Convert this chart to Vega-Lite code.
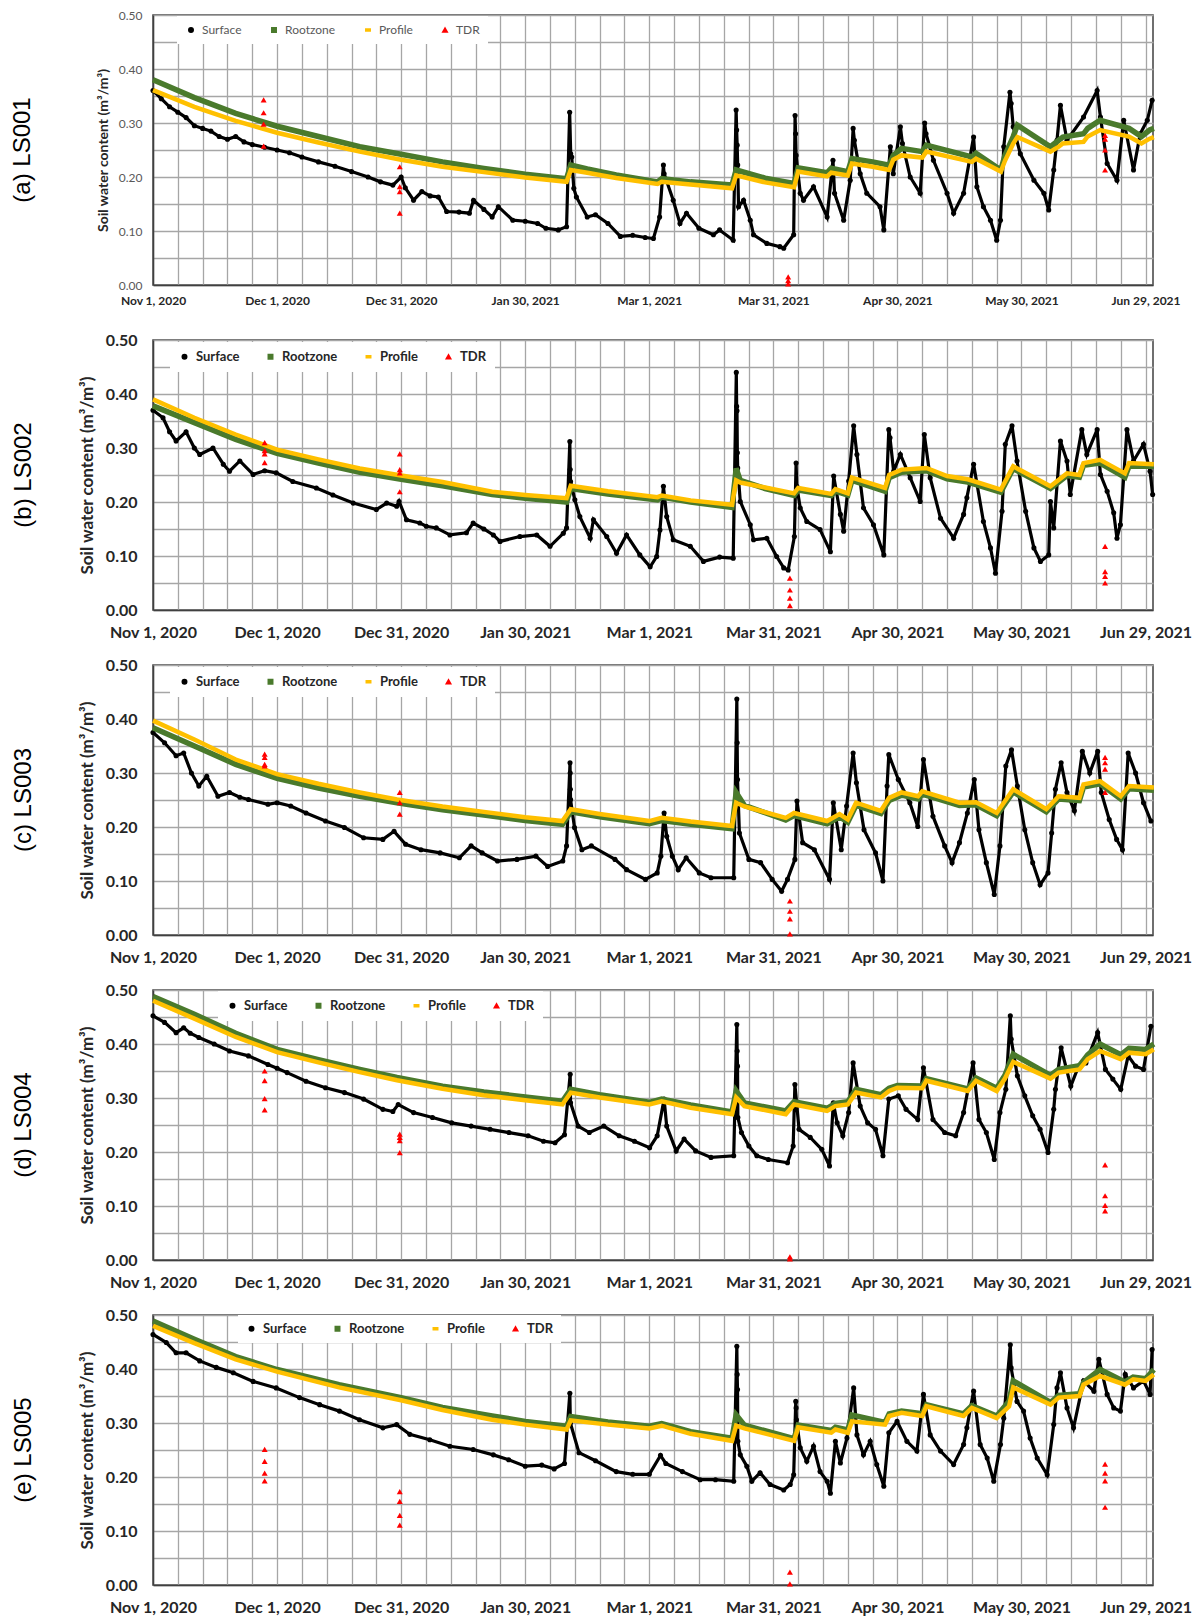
{
"$schema":"https://vega.github.io/schema/vega-lite/v6.json",
"padding":{"left":10,"top":8,"right":5,"bottom":5},
"background":"white",
"config":{
"view":{"stroke":"#404040","strokeWidth":1.5},
"axis":{"gridColor":"#a6a6a6","gridWidth":1.3,"gridOpacity":1,"ticks":false,"domainColor":"#404040","domainWidth":1.5,"labelFont":"Lato","titleFont":"Lato","labelOverlap":false,"labelFlush":false},
"title":{"font":"Liberation Sans","fontSize":24,"fontWeight":"normal","color":"#000000"},
"legend":{"labelFont":"Lato"}
},
"spacing":55,
"bounds":"flush",
"resolve":{"scale":{"color":"independent","shape":"independent"},"legend":{"color":"independent","shape":"independent"}},
"datasets":{
"a_surface":[{"date":"2020-11-01","swc":0.36},{"date":"2020-11-03","swc":0.345},{"date":"2020-11-05","swc":0.33},{"date":"2020-11-07","swc":0.32},{"date":"2020-11-09","swc":0.31},{"date":"2020-11-11","swc":0.295},{"date":"2020-11-13","swc":0.29},{"date":"2020-11-15","swc":0.285},{"date":"2020-11-17","swc":0.275},{"date":"2020-11-19","swc":0.27},{"date":"2020-11-21","swc":0.275},{"date":"2020-11-23","swc":0.265},{"date":"2020-11-25","swc":0.26},{"date":"2020-11-28","swc":0.255},{"date":"2020-12-01","swc":0.25},{"date":"2020-12-04","swc":0.245},{"date":"2020-12-07","swc":0.237},{"date":"2020-12-11","swc":0.228},{"date":"2020-12-15","swc":0.22},{"date":"2020-12-19","swc":0.21},{"date":"2020-12-23","swc":0.2},{"date":"2020-12-26","swc":0.191},{"date":"2020-12-29","swc":0.185},{"date":"2020-12-31","swc":0.2},{"date":"2021-01-01","swc":0.18},{"date":"2021-01-03","swc":0.157},{"date":"2021-01-05","swc":0.173},{"date":"2021-01-07","swc":0.165},{"date":"2021-01-09","swc":0.163},{"date":"2021-01-11","swc":0.136},{"date":"2021-01-14","swc":0.135},{"date":"2021-01-16T12:00Z","swc":0.133},{"date":"2021-01-17T12:00Z","swc":0.157},{"date":"2021-01-20","swc":0.14},{"date":"2021-01-22","swc":0.126},{"date":"2021-01-23T12:00Z","swc":0.145},{"date":"2021-01-27","swc":0.12},{"date":"2021-01-30","swc":0.118},{"date":"2021-02-02","swc":0.114},{"date":"2021-02-04","swc":0.105},{"date":"2021-02-07","swc":0.102},{"date":"2021-02-09","swc":0.108},{"date":"2021-02-09T18:00Z","swc":0.32},{"date":"2021-02-10","swc":0.243},{"date":"2021-02-10T06:00Z","swc":0.237},{"date":"2021-02-10T18:00Z","swc":0.179},{"date":"2021-02-11T09:00Z","swc":0.163},{"date":"2021-02-14","swc":0.126},{"date":"2021-02-16","swc":0.13},{"date":"2021-02-19","swc":0.114},{"date":"2021-02-22","swc":0.09},{"date":"2021-02-25","swc":0.092},{"date":"2021-02-28","swc":0.088},{"date":"2021-03-02","swc":0.086},{"date":"2021-03-03T12:00Z","swc":0.126},{"date":"2021-03-04T10:00Z","swc":0.222},{"date":"2021-03-04T14:00Z","swc":0.206},{"date":"2021-03-06T19:00Z","swc":0.157},{"date":"2021-03-08T10:00Z","swc":0.114},{"date":"2021-03-10","swc":0.133},{"date":"2021-03-13","swc":0.105},{"date":"2021-03-16T12:00Z","swc":0.093},{"date":"2021-03-18","swc":0.102},{"date":"2021-03-21T07:00Z","swc":0.083},{"date":"2021-03-22","swc":0.324},{"date":"2021-03-22T03:00Z","swc":0.287},{"date":"2021-03-22T06:00Z","swc":0.259},{"date":"2021-03-22T09:00Z","swc":0.222},{"date":"2021-03-22T14:00Z","swc":0.145},{"date":"2021-03-23T19:00Z","swc":0.157},{"date":"2021-03-25T10:00Z","swc":0.12},{"date":"2021-03-26T05:00Z","swc":0.093},{"date":"2021-03-29T10:00Z","swc":0.077},{"date":"2021-04-01T14:00Z","swc":0.071},{"date":"2021-04-02T12:00Z","swc":0.068},{"date":"2021-04-04T22:00Z","swc":0.093},{"date":"2021-04-05T06:00Z","swc":0.314},{"date":"2021-04-05T09:00Z","swc":0.28},{"date":"2021-04-05T12:00Z","swc":0.24},{"date":"2021-04-06T12:00Z","swc":0.17},{"date":"2021-04-07T07:00Z","swc":0.157},{"date":"2021-04-09T17:00Z","swc":0.182},{"date":"2021-04-13","swc":0.126},{"date":"2021-04-14T10:00Z","swc":0.231},{"date":"2021-04-14T19:00Z","swc":0.17},{"date":"2021-04-17","swc":0.12},{"date":"2021-04-18T14:00Z","swc":0.194},{"date":"2021-04-19T07:00Z","swc":0.29},{"date":"2021-04-19T14:00Z","swc":0.268},{"date":"2021-04-21","swc":0.206},{"date":"2021-04-22T14:00Z","swc":0.17},{"date":"2021-04-25T19:00Z","swc":0.145},{"date":"2021-04-26T17:00Z","swc":0.102},{"date":"2021-04-28T07:00Z","swc":0.256},{"date":"2021-04-29","swc":0.206},{"date":"2021-04-30T17:00Z","swc":0.293},{"date":"2021-05-01T05:00Z","swc":0.262},{"date":"2021-05-03T02:00Z","swc":0.2},{"date":"2021-05-05T12:00Z","swc":0.17},{"date":"2021-05-06T14:00Z","swc":0.3},{"date":"2021-05-06T22:00Z","swc":0.28},{"date":"2021-05-08T17:00Z","swc":0.231},{"date":"2021-05-12","swc":0.17},{"date":"2021-05-13T14:00Z","swc":0.133},{"date":"2021-05-16","swc":0.17},{"date":"2021-05-18T10:00Z","swc":0.274},{"date":"2021-05-19T05:00Z","swc":0.182},{"date":"2021-05-20T19:00Z","swc":0.145},{"date":"2021-05-22T12:00Z","swc":0.12},{"date":"2021-05-24","swc":0.083},{"date":"2021-05-24T22:00Z","swc":0.12},{"date":"2021-05-25T17:00Z","swc":0.256},{"date":"2021-05-27T05:00Z","swc":0.357},{"date":"2021-05-27T12:00Z","swc":0.336},{"date":"2021-05-28","swc":0.293},{"date":"2021-05-29T17:00Z","swc":0.243},{"date":"2021-06-02","swc":0.194},{"date":"2021-06-04T10:00Z","swc":0.17},{"date":"2021-06-05T14:00Z","swc":0.139},{"date":"2021-06-06T19:00Z","swc":0.213},{"date":"2021-06-07T14:00Z","swc":0.268},{"date":"2021-06-08T10:00Z","swc":0.333},{"date":"2021-06-10","swc":0.268},{"date":"2021-06-14","swc":0.311},{"date":"2021-06-17T07:00Z","swc":0.36},{"date":"2021-06-18T02:00Z","swc":0.311},{"date":"2021-06-19T17:00Z","swc":0.225},{"date":"2021-06-22T02:00Z","swc":0.194},{"date":"2021-06-23T17:00Z","swc":0.305},{"date":"2021-06-26T02:00Z","swc":0.213},{"date":"2021-06-27T17:00Z","swc":0.28},{"date":"2021-06-29T10:00Z","swc":0.305},{"date":"2021-06-30T14:00Z","swc":0.342}],
"a_lines":[{"date":"2020-11-01","rootzone":0.38,"profile":0.361},{"date":"2020-11-11","rootzone":0.347,"profile":0.33},{"date":"2020-11-21","rootzone":0.318,"profile":0.304},{"date":"2020-12-01","rootzone":0.294,"profile":0.282},{"date":"2020-12-11","rootzone":0.275,"profile":0.264},{"date":"2020-12-21","rootzone":0.256,"profile":0.247},{"date":"2020-12-31","rootzone":0.242,"profile":0.232},{"date":"2021-01-10","rootzone":0.228,"profile":0.219},{"date":"2021-01-20","rootzone":0.216,"profile":0.209},{"date":"2021-01-30","rootzone":0.205,"profile":0.199},{"date":"2021-02-09","rootzone":0.197,"profile":0.191},{"date":"2021-02-10","rootzone":0.222,"profile":0.213},{"date":"2021-02-14","rootzone":0.215,"profile":0.208},{"date":"2021-02-21","rootzone":0.204,"profile":0.198},{"date":"2021-03-03","rootzone":0.191,"profile":0.187},{"date":"2021-03-04","rootzone":0.197,"profile":0.191},{"date":"2021-03-11","rootzone":0.191,"profile":0.186},{"date":"2021-03-21","rootzone":0.185,"profile":0.179},{"date":"2021-03-22","rootzone":0.213,"profile":0.203},{"date":"2021-03-29","rootzone":0.198,"profile":0.19},{"date":"2021-04-05","rootzone":0.188,"profile":0.181},{"date":"2021-04-06","rootzone":0.217,"profile":0.21},{"date":"2021-04-13","rootzone":0.208,"profile":0.201},{"date":"2021-04-14","rootzone":0.216,"profile":0.208},{"date":"2021-04-18","rootzone":0.21,"profile":0.203},{"date":"2021-04-19","rootzone":0.234,"profile":0.225},{"date":"2021-04-24","rootzone":0.228,"profile":0.219},{"date":"2021-04-28","rootzone":0.222,"profile":0.213},{"date":"2021-04-29","rootzone":0.24,"profile":0.232},{"date":"2021-05-01","rootzone":0.253,"profile":0.24},{"date":"2021-05-06","rootzone":0.247,"profile":0.236},{"date":"2021-05-07","rootzone":0.259,"profile":0.247},{"date":"2021-05-18","rootzone":0.237,"profile":0.228},{"date":"2021-05-19","rootzone":0.244,"profile":0.234},{"date":"2021-05-25","rootzone":0.213,"profile":0.21},{"date":"2021-05-26","rootzone":0.24,"profile":0.23},{"date":"2021-05-28","rootzone":0.275,"profile":0.262},{"date":"2021-05-29","rootzone":0.296,"profile":0.274},{"date":"2021-06-06","rootzone":0.256,"profile":0.247},{"date":"2021-06-08","rootzone":0.268,"profile":0.256},{"date":"2021-06-09","rootzone":0.274,"profile":0.262},{"date":"2021-06-14","rootzone":0.28,"profile":0.265},{"date":"2021-06-15","rootzone":0.29,"profile":0.275},{"date":"2021-06-18","rootzone":0.305,"profile":0.287},{"date":"2021-06-25","rootzone":0.29,"profile":0.275},{"date":"2021-06-28","rootzone":0.275,"profile":0.262},{"date":"2021-06-30","rootzone":0.287,"profile":0.271},{"date":"2021-07-01","rootzone":0.29,"profile":0.274}],
"a_tdr":[{"date":"2020-11-27T18:00Z","swc":0.343},{"date":"2020-11-27T18:00Z","swc":0.319},{"date":"2020-11-27T18:00Z","swc":0.298},{"date":"2020-11-27T18:00Z","swc":0.257},{"date":"2020-12-30T16:00Z","swc":0.219},{"date":"2020-12-30T16:00Z","swc":0.182},{"date":"2020-12-30T16:00Z","swc":0.173},{"date":"2020-12-30T16:00Z","swc":0.133},{"date":"2021-04-03T14:00Z","swc":0.015},{"date":"2021-04-03T14:00Z","swc":0.008},{"date":"2021-04-03T14:00Z","swc":0.002},{"date":"2021-06-19T05:00Z","swc":0.277},{"date":"2021-06-19T05:00Z","swc":0.27},{"date":"2021-06-19T05:00Z","swc":0.25},{"date":"2021-06-19T05:00Z","swc":0.213}],
"b_surface":[{"date":"2020-11-01","swc":0.37},{"date":"2020-11-03T10:00Z","swc":0.356},{"date":"2020-11-05","swc":0.33},{"date":"2020-11-06T14:00Z","swc":0.313},{"date":"2020-11-09","swc":0.33},{"date":"2020-11-11","swc":0.3},{"date":"2020-11-12T07:00Z","swc":0.288},{"date":"2020-11-15T12:00Z","swc":0.3},{"date":"2020-11-18","swc":0.27},{"date":"2020-11-19T12:00Z","swc":0.257},{"date":"2020-11-22","swc":0.276},{"date":"2020-11-25T05:00Z","swc":0.251},{"date":"2020-11-28","swc":0.258},{"date":"2020-11-30T19:00Z","swc":0.254},{"date":"2020-12-04T19:00Z","swc":0.238},{"date":"2020-12-10T12:00Z","swc":0.226},{"date":"2020-12-14T12:00Z","swc":0.213},{"date":"2020-12-19T10:00Z","swc":0.198},{"date":"2020-12-25","swc":0.186},{"date":"2020-12-27T12:00Z","swc":0.198},{"date":"2020-12-29T22:00Z","swc":0.192},{"date":"2020-12-30T12:00Z","swc":0.201},{"date":"2021-01-01T07:00Z","swc":0.167},{"date":"2021-01-04T12:00Z","swc":0.161},{"date":"2021-01-06T02:00Z","swc":0.155},{"date":"2021-01-08T12:00Z","swc":0.152},{"date":"2021-01-11T19:00Z","swc":0.139},{"date":"2021-01-15T19:00Z","swc":0.143},{"date":"2021-01-17T10:00Z","swc":0.161},{"date":"2021-01-20","swc":0.15},{"date":"2021-01-22T07:00Z","swc":0.139},{"date":"2021-01-23T22:00Z","swc":0.127},{"date":"2021-01-28T17:00Z","swc":0.136},{"date":"2021-02-01T19:00Z","swc":0.139},{"date":"2021-02-05","swc":0.118},{"date":"2021-02-08T05:00Z","swc":0.142},{"date":"2021-02-09","swc":0.152},{"date":"2021-02-09T19:00Z","swc":0.312},{"date":"2021-02-09T21:00Z","swc":0.26},{"date":"2021-02-09T23:00Z","swc":0.238},{"date":"2021-02-11","swc":0.204},{"date":"2021-02-12T05:00Z","swc":0.173},{"date":"2021-02-14T17:00Z","swc":0.133},{"date":"2021-02-15T12:00Z","swc":0.167},{"date":"2021-02-18T17:00Z","swc":0.136},{"date":"2021-02-21T02:00Z","swc":0.105},{"date":"2021-02-23T12:00Z","swc":0.139},{"date":"2021-02-26T17:00Z","swc":0.102},{"date":"2021-03-01T05:00Z","swc":0.08},{"date":"2021-03-02T19:00Z","swc":0.099},{"date":"2021-03-03T14:00Z","swc":0.148},{"date":"2021-03-04T10:00Z","swc":0.229},{"date":"2021-03-05T05:00Z","swc":0.173},{"date":"2021-03-06T19:00Z","swc":0.13},{"date":"2021-03-10T22:00Z","swc":0.118},{"date":"2021-03-14T02:00Z","swc":0.09},{"date":"2021-03-18","swc":0.098},{"date":"2021-03-21T07:00Z","swc":0.096},{"date":"2021-03-22T01:00Z","swc":0.44},{"date":"2021-03-22T03:00Z","swc":0.377},{"date":"2021-03-22T05:00Z","swc":0.369},{"date":"2021-03-22T07:00Z","swc":0.291},{"date":"2021-03-22T09:00Z","swc":0.263},{"date":"2021-03-23","swc":0.201},{"date":"2021-03-25T10:00Z","swc":0.158},{"date":"2021-03-26T05:00Z","swc":0.13},{"date":"2021-03-29T10:00Z","swc":0.133},{"date":"2021-03-31T19:00Z","swc":0.099},{"date":"2021-04-02T12:00Z","swc":0.078},{"date":"2021-04-03T14:00Z","swc":0.074},{"date":"2021-04-05T02:00Z","swc":0.136},{"date":"2021-04-05T12:00Z","swc":0.272},{"date":"2021-04-05T16:00Z","swc":0.229},{"date":"2021-04-06T12:00Z","swc":0.189},{"date":"2021-04-08T02:00Z","swc":0.164},{"date":"2021-04-11T07:00Z","swc":0.149},{"date":"2021-04-13T19:00Z","swc":0.108},{"date":"2021-04-14T14:00Z","swc":0.248},{"date":"2021-04-16T05:00Z","swc":0.177},{"date":"2021-04-17","swc":0.146},{"date":"2021-04-18T05:00Z","swc":0.239},{"date":"2021-04-19T10:00Z","swc":0.341},{"date":"2021-04-20T05:00Z","swc":0.288},{"date":"2021-04-21T19:00Z","swc":0.189},{"date":"2021-04-24T05:00Z","swc":0.158},{"date":"2021-04-26T17:00Z","swc":0.102},{"date":"2021-04-27T22:00Z","swc":0.334},{"date":"2021-04-28T05:00Z","swc":0.319},{"date":"2021-04-29T02:00Z","swc":0.257},{"date":"2021-04-30T17:00Z","swc":0.288},{"date":"2021-05-03T02:00Z","swc":0.245},{"date":"2021-05-05T12:00Z","swc":0.201},{"date":"2021-05-06T12:00Z","swc":0.325},{"date":"2021-05-07T22:00Z","swc":0.245},{"date":"2021-05-10T10:00Z","swc":0.17},{"date":"2021-05-13T14:00Z","swc":0.133},{"date":"2021-05-16","swc":0.177},{"date":"2021-05-16T19:00Z","swc":0.208},{"date":"2021-05-18T10:00Z","swc":0.27},{"date":"2021-05-20T19:00Z","swc":0.164},{"date":"2021-05-22T12:00Z","swc":0.115},{"date":"2021-05-23T17:00Z","swc":0.068},{"date":"2021-05-25T07:00Z","swc":0.183},{"date":"2021-05-26T02:00Z","swc":0.307},{"date":"2021-05-27T17:00Z","swc":0.341},{"date":"2021-05-28T22:00Z","swc":0.276},{"date":"2021-05-31","swc":0.183},{"date":"2021-06-02","swc":0.115},{"date":"2021-06-03T14:00Z","swc":0.09},{"date":"2021-06-05T14:00Z","swc":0.102},{"date":"2021-06-06","swc":0.201},{"date":"2021-06-06T19:00Z","swc":0.152},{"date":"2021-06-08T10:00Z","swc":0.313},{"date":"2021-06-10","swc":0.276},{"date":"2021-06-10T19:00Z","swc":0.214},{"date":"2021-06-13T14:00Z","swc":0.334},{"date":"2021-06-14T19:00Z","swc":0.288},{"date":"2021-06-17T07:00Z","swc":0.334},{"date":"2021-06-18T02:00Z","swc":0.251},{"date":"2021-06-19T17:00Z","swc":0.22},{"date":"2021-06-21T07:00Z","swc":0.18},{"date":"2021-06-22T02:00Z","swc":0.133},{"date":"2021-06-22T22:00Z","swc":0.158},{"date":"2021-06-24T12:00Z","swc":0.334},{"date":"2021-06-26T02:00Z","swc":0.276},{"date":"2021-06-28T12:00Z","swc":0.307},{"date":"2021-06-30T02:00Z","swc":0.257},{"date":"2021-06-30T17:00Z","swc":0.214}],
"b_lines":[{"date":"2020-11-01","rootzone":0.378,"profile":0.39},{"date":"2020-11-11","rootzone":0.347,"profile":0.356},{"date":"2020-11-21","rootzone":0.316,"profile":0.325},{"date":"2020-12-01","rootzone":0.29,"profile":0.297},{"date":"2020-12-11","rootzone":0.272,"profile":0.279},{"date":"2020-12-21","rootzone":0.255,"profile":0.262},{"date":"2020-12-31","rootzone":0.242,"profile":0.249},{"date":"2021-01-10","rootzone":0.23,"profile":0.237},{"date":"2021-01-22","rootzone":0.214,"profile":0.219},{"date":"2021-01-30","rootzone":0.207,"profile":0.213},{"date":"2021-02-09","rootzone":0.2,"profile":0.207},{"date":"2021-02-10","rootzone":0.225,"profile":0.23},{"date":"2021-02-19","rootzone":0.215,"profile":0.22},{"date":"2021-03-03","rootzone":0.204,"profile":0.209},{"date":"2021-03-04","rootzone":0.209,"profile":0.212},{"date":"2021-03-11","rootzone":0.2,"profile":0.203},{"date":"2021-03-21","rootzone":0.19,"profile":0.195},{"date":"2021-03-22","rootzone":0.262,"profile":0.24},{"date":"2021-03-23","rootzone":0.24,"profile":0.236},{"date":"2021-03-29","rootzone":0.225,"profile":0.227},{"date":"2021-04-05","rootzone":0.212,"profile":0.216},{"date":"2021-04-06","rootzone":0.222,"profile":0.226},{"date":"2021-04-14","rootzone":0.212,"profile":0.215},{"date":"2021-04-15","rootzone":0.22,"profile":0.224},{"date":"2021-04-18","rootzone":0.213,"profile":0.216},{"date":"2021-04-19","rootzone":0.24,"profile":0.245},{"date":"2021-04-27","rootzone":0.22,"profile":0.226},{"date":"2021-04-28","rootzone":0.245,"profile":0.25},{"date":"2021-05-01","rootzone":0.255,"profile":0.26},{"date":"2021-05-07","rootzone":0.258,"profile":0.263},{"date":"2021-05-12","rootzone":0.243,"profile":0.248},{"date":"2021-05-17","rootzone":0.237,"profile":0.242},{"date":"2021-05-25","rootzone":0.218,"profile":0.223},{"date":"2021-05-28","rootzone":0.262,"profile":0.266},{"date":"2021-06-06","rootzone":0.225,"profile":0.229},{"date":"2021-06-10","rootzone":0.249,"profile":0.253},{"date":"2021-06-13","rootzone":0.246,"profile":0.25},{"date":"2021-06-14","rootzone":0.268,"profile":0.272},{"date":"2021-06-18","rootzone":0.272,"profile":0.278},{"date":"2021-06-24","rootzone":0.246,"profile":0.253},{"date":"2021-06-25","rootzone":0.266,"profile":0.272},{"date":"2021-07-01","rootzone":0.266,"profile":0.27}],
"b_tdr":[{"date":"2020-11-28","swc":0.31},{"date":"2020-11-28","swc":0.295},{"date":"2020-11-28","swc":0.289},{"date":"2020-11-28","swc":0.273},{"date":"2020-12-30T16:00Z","swc":0.289},{"date":"2020-12-30T16:00Z","swc":0.26},{"date":"2020-12-30T16:00Z","swc":0.254},{"date":"2020-12-30T16:00Z","swc":0.219},{"date":"2021-04-04","swc":0.059},{"date":"2021-04-04","swc":0.037},{"date":"2021-04-04","swc":0.022},{"date":"2021-04-04","swc":0.008},{"date":"2021-06-19T05:00Z","swc":0.118},{"date":"2021-06-19T05:00Z","swc":0.071},{"date":"2021-06-19T05:00Z","swc":0.062},{"date":"2021-06-19T05:00Z","swc":0.05}],
"c_surface":[{"date":"2020-11-01","swc":0.375},{"date":"2020-11-03T19:00Z","swc":0.356},{"date":"2020-11-06T14:00Z","swc":0.332},{"date":"2020-11-08T10:00Z","swc":0.337},{"date":"2020-11-10T07:00Z","swc":0.3},{"date":"2020-11-12T02:00Z","swc":0.276},{"date":"2020-11-14","swc":0.294},{"date":"2020-11-16T17:00Z","swc":0.257},{"date":"2020-11-19T12:00Z","swc":0.264},{"date":"2020-11-22","swc":0.255},{"date":"2020-11-24T02:00Z","swc":0.251},{"date":"2020-11-28T19:00Z","swc":0.242},{"date":"2020-12-01","swc":0.245},{"date":"2020-12-04T07:00Z","swc":0.239},{"date":"2020-12-08","swc":0.226},{"date":"2020-12-12T17:00Z","swc":0.211},{"date":"2020-12-17T07:00Z","swc":0.199},{"date":"2020-12-21T22:00Z","swc":0.18},{"date":"2020-12-26T14:00Z","swc":0.177},{"date":"2020-12-29T07:00Z","swc":0.192},{"date":"2021-01-01T02:00Z","swc":0.168},{"date":"2021-01-04T19:00Z","swc":0.158},{"date":"2021-01-09T10:00Z","swc":0.152},{"date":"2021-01-14T02:00Z","swc":0.143},{"date":"2021-01-16T22:00Z","swc":0.165},{"date":"2021-01-19T14:00Z","swc":0.152},{"date":"2021-01-23T07:00Z","swc":0.137},{"date":"2021-01-28","swc":0.14},{"date":"2021-02-01T14:00Z","swc":0.146},{"date":"2021-02-04T10:00Z","swc":0.127},{"date":"2021-02-08T02:00Z","swc":0.137},{"date":"2021-02-09","swc":0.165},{"date":"2021-02-09T20:00Z","swc":0.319},{"date":"2021-02-09T21:00Z","swc":0.3},{"date":"2021-02-09T22:00Z","swc":0.27},{"date":"2021-02-09T23:00Z","swc":0.251},{"date":"2021-02-10T22:00Z","swc":0.199},{"date":"2021-02-12T17:00Z","swc":0.158},{"date":"2021-02-15","swc":0.165},{"date":"2021-02-20T17:00Z","swc":0.14},{"date":"2021-02-23T12:00Z","swc":0.121},{"date":"2021-02-28T02:00Z","swc":0.103},{"date":"2021-03-02T22:00Z","swc":0.115},{"date":"2021-03-03T19:00Z","swc":0.146},{"date":"2021-03-04T14:00Z","swc":0.226},{"date":"2021-03-05T05:00Z","swc":0.183},{"date":"2021-03-06T14:00Z","swc":0.146},{"date":"2021-03-08","swc":0.121},{"date":"2021-03-09T22:00Z","swc":0.143},{"date":"2021-03-13T02:00Z","swc":0.115},{"date":"2021-03-15T22:00Z","swc":0.106},{"date":"2021-03-21T10:00Z","swc":0.106},{"date":"2021-03-22T04:00Z","swc":0.437},{"date":"2021-03-22T06:00Z","swc":0.356},{"date":"2021-03-22T08:00Z","swc":0.288},{"date":"2021-03-22T19:00Z","swc":0.189},{"date":"2021-03-25T02:00Z","swc":0.14},{"date":"2021-03-27T22:00Z","swc":0.134},{"date":"2021-03-30T17:00Z","swc":0.103},{"date":"2021-04-02","swc":0.081},{"date":"2021-04-03T10:00Z","swc":0.103},{"date":"2021-04-05T05:00Z","swc":0.14},{"date":"2021-04-05T17:00Z","swc":0.248},{"date":"2021-04-07T02:00Z","swc":0.171},{"date":"2021-04-09T22:00Z","swc":0.158},{"date":"2021-04-13T14:00Z","swc":0.103},{"date":"2021-04-14T12:00Z","swc":0.245},{"date":"2021-04-16T10:00Z","swc":0.158},{"date":"2021-04-17T17:00Z","swc":0.239},{"date":"2021-04-19T07:00Z","swc":0.337},{"date":"2021-04-20T02:00Z","swc":0.282},{"date":"2021-04-21T22:00Z","swc":0.195},{"date":"2021-04-24T17:00Z","swc":0.152},{"date":"2021-04-26T12:00Z","swc":0.1},{"date":"2021-04-27T12:00Z","swc":0.276},{"date":"2021-04-27T22:00Z","swc":0.334},{"date":"2021-04-30T05:00Z","swc":0.288},{"date":"2021-05-03","swc":0.245},{"date":"2021-05-04T22:00Z","swc":0.201},{"date":"2021-05-06T07:00Z","swc":0.325},{"date":"2021-05-08T14:00Z","swc":0.22},{"date":"2021-05-11T10:00Z","swc":0.165},{"date":"2021-05-13T05:00Z","swc":0.134},{"date":"2021-05-15","swc":0.171},{"date":"2021-05-16T22:00Z","swc":0.226},{"date":"2021-05-18T14:00Z","swc":0.288},{"date":"2021-05-19T17:00Z","swc":0.195},{"date":"2021-05-21T12:00Z","swc":0.134},{"date":"2021-05-23T10:00Z","swc":0.075},{"date":"2021-05-24T19:00Z","swc":0.165},{"date":"2021-05-26T05:00Z","swc":0.313},{"date":"2021-05-27T14:00Z","swc":0.343},{"date":"2021-05-29","swc":0.276},{"date":"2021-05-30T19:00Z","swc":0.195},{"date":"2021-06-01T17:00Z","swc":0.134},{"date":"2021-06-03T12:00Z","swc":0.093},{"date":"2021-06-05T10:00Z","swc":0.115},{"date":"2021-06-06T07:00Z","swc":0.189},{"date":"2021-06-07T05:00Z","swc":0.27},{"date":"2021-06-08T14:00Z","swc":0.319},{"date":"2021-06-10","swc":0.264},{"date":"2021-06-11T19:00Z","swc":0.23},{"date":"2021-06-13T17:00Z","swc":0.34},{"date":"2021-06-15T12:00Z","swc":0.3},{"date":"2021-06-17T10:00Z","swc":0.34},{"date":"2021-06-18T07:00Z","swc":0.264},{"date":"2021-06-20T05:00Z","swc":0.214},{"date":"2021-06-22","swc":0.177},{"date":"2021-06-23T10:00Z","swc":0.158},{"date":"2021-06-24T19:00Z","swc":0.337},{"date":"2021-06-26T14:00Z","swc":0.3},{"date":"2021-06-28T12:00Z","swc":0.245},{"date":"2021-06-30T07:00Z","swc":0.211}],
"c_lines":[{"date":"2020-11-01","rootzone":0.384,"profile":0.397},{"date":"2020-11-11","rootzone":0.35,"profile":0.362},{"date":"2020-11-21","rootzone":0.316,"profile":0.325},{"date":"2020-12-01","rootzone":0.29,"profile":0.298},{"date":"2020-12-11","rootzone":0.272,"profile":0.28},{"date":"2020-12-21","rootzone":0.257,"profile":0.264},{"date":"2020-12-30","rootzone":0.245,"profile":0.251},{"date":"2021-01-10","rootzone":0.232,"profile":0.238},{"date":"2021-01-20","rootzone":0.222,"profile":0.228},{"date":"2021-01-30","rootzone":0.212,"profile":0.218},{"date":"2021-02-08","rootzone":0.205,"profile":0.211},{"date":"2021-02-10","rootzone":0.228,"profile":0.233},{"date":"2021-02-17","rootzone":0.219,"profile":0.224},{"date":"2021-03-01","rootzone":0.206,"profile":0.211},{"date":"2021-03-04","rootzone":0.212,"profile":0.217},{"date":"2021-03-11","rootzone":0.205,"profile":0.21},{"date":"2021-03-21","rootzone":0.197,"profile":0.202},{"date":"2021-03-22","rootzone":0.264,"profile":0.245},{"date":"2021-03-24","rootzone":0.24,"profile":0.238},{"date":"2021-04-03","rootzone":0.213,"profile":0.217},{"date":"2021-04-05","rootzone":0.221,"profile":0.226},{"date":"2021-04-13","rootzone":0.206,"profile":0.211},{"date":"2021-04-16","rootzone":0.219,"profile":0.224},{"date":"2021-04-18","rootzone":0.209,"profile":0.214},{"date":"2021-04-20","rootzone":0.24,"profile":0.245},{"date":"2021-04-26","rootzone":0.225,"profile":0.23},{"date":"2021-04-28","rootzone":0.249,"profile":0.254},{"date":"2021-05-01","rootzone":0.259,"profile":0.264},{"date":"2021-05-05","rootzone":0.252,"profile":0.257},{"date":"2021-05-06","rootzone":0.261,"profile":0.266},{"date":"2021-05-15","rootzone":0.24,"profile":0.245},{"date":"2021-05-19","rootzone":0.241,"profile":0.246},{"date":"2021-05-24","rootzone":0.221,"profile":0.226},{"date":"2021-05-28","rootzone":0.265,"profile":0.27},{"date":"2021-06-05","rootzone":0.228,"profile":0.233},{"date":"2021-06-08","rootzone":0.252,"profile":0.257},{"date":"2021-06-13","rootzone":0.249,"profile":0.254},{"date":"2021-06-14","rootzone":0.274,"profile":0.279},{"date":"2021-06-18","rootzone":0.28,"profile":0.285},{"date":"2021-06-23","rootzone":0.252,"profile":0.257},{"date":"2021-06-25","rootzone":0.271,"profile":0.276},{"date":"2021-07-01","rootzone":0.268,"profile":0.273}],
"c_tdr":[{"date":"2020-11-28","swc":0.335},{"date":"2020-11-28","swc":0.329},{"date":"2020-11-28","swc":0.316},{"date":"2020-11-28","swc":0.313},{"date":"2020-12-30T16:00Z","swc":0.264},{"date":"2020-12-30T16:00Z","swc":0.245},{"date":"2020-12-30T16:00Z","swc":0.224},{"date":"2021-04-04","swc":0.063},{"date":"2021-04-04","swc":0.044},{"date":"2021-04-04","swc":0.03},{"date":"2021-04-04","swc":0.002},{"date":"2021-06-19T05:00Z","swc":0.329},{"date":"2021-06-19T05:00Z","swc":0.319},{"date":"2021-06-19T05:00Z","swc":0.307},{"date":"2021-06-19T05:00Z","swc":0.264}],
"d_surface":[{"date":"2020-11-01","swc":0.452},{"date":"2020-11-03T19:00Z","swc":0.44},{"date":"2020-11-06T14:00Z","swc":0.421},{"date":"2020-11-08T10:00Z","swc":0.43},{"date":"2020-11-10","swc":0.42},{"date":"2020-11-12T02:00Z","swc":0.412},{"date":"2020-11-15T19:00Z","swc":0.4},{"date":"2020-11-19T12:00Z","swc":0.387},{"date":"2020-11-24T02:00Z","swc":0.378},{"date":"2020-11-28T19:00Z","swc":0.362},{"date":"2020-12-01","swc":0.355},{"date":"2020-12-03T10:00Z","swc":0.347},{"date":"2020-12-08","swc":0.331},{"date":"2020-12-12T17:00Z","swc":0.319},{"date":"2020-12-17T07:00Z","swc":0.31},{"date":"2020-12-21T22:00Z","swc":0.298},{"date":"2020-12-26T14:00Z","swc":0.279},{"date":"2020-12-29","swc":0.275},{"date":"2020-12-30T07:00Z","swc":0.288},{"date":"2021-01-03","swc":0.273},{"date":"2021-01-07T14:00Z","swc":0.264},{"date":"2021-01-12T05:00Z","swc":0.254},{"date":"2021-01-16T22:00Z","swc":0.248},{"date":"2021-01-21T12:00Z","swc":0.242},{"date":"2021-01-26T02:00Z","swc":0.236},{"date":"2021-01-30T17:00Z","swc":0.23},{"date":"2021-02-03T10:00Z","swc":0.22},{"date":"2021-02-06T05:00Z","swc":0.217},{"date":"2021-02-08T12:00Z","swc":0.232},{"date":"2021-02-09T21:00Z","swc":0.344},{"date":"2021-02-09T23:00Z","swc":0.291},{"date":"2021-02-11T19:00Z","swc":0.248},{"date":"2021-02-14T12:00Z","swc":0.236},{"date":"2021-02-18","swc":0.248},{"date":"2021-02-21T17:00Z","swc":0.23},{"date":"2021-02-25T10:00Z","swc":0.22},{"date":"2021-03-01T02:00Z","swc":0.208},{"date":"2021-03-02T22:00Z","swc":0.23},{"date":"2021-03-04T14:00Z","swc":0.298},{"date":"2021-03-05T05:00Z","swc":0.248},{"date":"2021-03-07T12:00Z","swc":0.202},{"date":"2021-03-09T10:00Z","swc":0.224},{"date":"2021-03-12T05:00Z","swc":0.202},{"date":"2021-03-15T22:00Z","swc":0.19},{"date":"2021-03-21T10:00Z","swc":0.193},{"date":"2021-03-22T04:00Z","swc":0.436},{"date":"2021-03-22T06:00Z","swc":0.387},{"date":"2021-03-22T08:00Z","swc":0.359},{"date":"2021-03-22T10:00Z","swc":0.264},{"date":"2021-03-23T07:00Z","swc":0.236},{"date":"2021-03-25T02:00Z","swc":0.211},{"date":"2021-03-27","swc":0.193},{"date":"2021-03-29T19:00Z","swc":0.186},{"date":"2021-04-03T10:00Z","swc":0.18},{"date":"2021-04-04T19:00Z","swc":0.211},{"date":"2021-04-05T05:00Z","swc":0.325},{"date":"2021-04-06T05:00Z","swc":0.242},{"date":"2021-04-08T22:00Z","swc":0.227},{"date":"2021-04-11T17:00Z","swc":0.205},{"date":"2021-04-13T14:00Z","swc":0.174},{"date":"2021-04-14T12:00Z","swc":0.291},{"date":"2021-04-15T10:00Z","swc":0.254},{"date":"2021-04-16T19:00Z","swc":0.23},{"date":"2021-04-18T05:00Z","swc":0.273},{"date":"2021-04-19T07:00Z","swc":0.365},{"date":"2021-04-21","swc":0.285},{"date":"2021-04-22T19:00Z","swc":0.254},{"date":"2021-04-24T17:00Z","swc":0.242},{"date":"2021-04-26T12:00Z","swc":0.193},{"date":"2021-04-27T22:00Z","swc":0.298},{"date":"2021-04-30T05:00Z","swc":0.304},{"date":"2021-05-02T02:00Z","swc":0.279},{"date":"2021-05-04T22:00Z","swc":0.26},{"date":"2021-05-06T07:00Z","swc":0.356},{"date":"2021-05-08T14:00Z","swc":0.26},{"date":"2021-05-11T10:00Z","swc":0.236},{"date":"2021-05-14T02:00Z","swc":0.23},{"date":"2021-05-16","swc":0.273},{"date":"2021-05-18T07:00Z","swc":0.365},{"date":"2021-05-19T17:00Z","swc":0.26},{"date":"2021-05-21T12:00Z","swc":0.236},{"date":"2021-05-23T10:00Z","swc":0.186},{"date":"2021-05-24T19:00Z","swc":0.273},{"date":"2021-05-26T05:00Z","swc":0.316},{"date":"2021-05-27T07:00Z","swc":0.452},{"date":"2021-05-27T12:00Z","swc":0.409},{"date":"2021-05-29","swc":0.341},{"date":"2021-05-30T19:00Z","swc":0.304},{"date":"2021-06-01T17:00Z","swc":0.267},{"date":"2021-06-03T12:00Z","swc":0.242},{"date":"2021-06-05T10:00Z","swc":0.199},{"date":"2021-06-06T19:00Z","swc":0.279},{"date":"2021-06-07T05:00Z","swc":0.316},{"date":"2021-06-08T14:00Z","swc":0.393},{"date":"2021-06-10T22:00Z","swc":0.322},{"date":"2021-06-12T19:00Z","swc":0.359},{"date":"2021-06-14T14:00Z","swc":0.365},{"date":"2021-06-17T10:00Z","swc":0.421},{"date":"2021-06-19T07:00Z","swc":0.353},{"date":"2021-06-21T02:00Z","swc":0.335},{"date":"2021-06-23","swc":0.316},{"date":"2021-06-24T19:00Z","swc":0.378},{"date":"2021-06-26T14:00Z","swc":0.359},{"date":"2021-06-28T12:00Z","swc":0.353},{"date":"2021-06-30T07:00Z","swc":0.433}],
"d_lines":[{"date":"2020-11-01","rootzone":0.488,"profile":0.48},{"date":"2020-11-11","rootzone":0.455,"profile":0.447},{"date":"2020-11-21","rootzone":0.42,"profile":0.413},{"date":"2020-12-01","rootzone":0.39,"profile":0.385},{"date":"2020-12-11","rootzone":0.371,"profile":0.366},{"date":"2020-12-21","rootzone":0.353,"profile":0.348},{"date":"2020-12-30","rootzone":0.338,"profile":0.333},{"date":"2021-01-10","rootzone":0.322,"profile":0.317},{"date":"2021-01-20","rootzone":0.311,"profile":0.305},{"date":"2021-01-30","rootzone":0.302,"profile":0.296},{"date":"2021-02-08","rootzone":0.294,"profile":0.288},{"date":"2021-02-10","rootzone":0.316,"profile":0.31},{"date":"2021-02-17","rootzone":0.306,"profile":0.301},{"date":"2021-03-01","rootzone":0.292,"profile":0.288},{"date":"2021-03-04","rootzone":0.298,"profile":0.294},{"date":"2021-03-11","rootzone":0.287,"profile":0.282},{"date":"2021-03-21","rootzone":0.274,"profile":0.27},{"date":"2021-03-22","rootzone":0.313,"profile":0.301},{"date":"2021-03-24","rootzone":0.291,"profile":0.285},{"date":"2021-04-03","rootzone":0.276,"profile":0.27},{"date":"2021-04-05","rootzone":0.293,"profile":0.288},{"date":"2021-04-13","rootzone":0.281,"profile":0.276},{"date":"2021-04-15","rootzone":0.29,"profile":0.285},{"date":"2021-04-18","rootzone":0.293,"profile":0.288},{"date":"2021-04-20","rootzone":0.316,"profile":0.31},{"date":"2021-04-26","rootzone":0.306,"profile":0.301},{"date":"2021-04-28","rootzone":0.318,"profile":0.313},{"date":"2021-04-30","rootzone":0.323,"profile":0.319},{"date":"2021-05-06","rootzone":0.322,"profile":0.318},{"date":"2021-05-07","rootzone":0.336,"profile":0.332},{"date":"2021-05-17","rootzone":0.317,"profile":0.313},{"date":"2021-05-19","rootzone":0.337,"profile":0.332},{"date":"2021-05-24","rootzone":0.318,"profile":0.313},{"date":"2021-05-26","rootzone":0.342,"profile":0.336},{"date":"2021-05-28","rootzone":0.381,"profile":0.367},{"date":"2021-06-06","rootzone":0.342,"profile":0.336},{"date":"2021-06-08","rootzone":0.353,"profile":0.347},{"date":"2021-06-13","rootzone":0.36,"profile":0.353},{"date":"2021-06-15","rootzone":0.38,"profile":0.372},{"date":"2021-06-18","rootzone":0.4,"profile":0.387},{"date":"2021-06-23","rootzone":0.38,"profile":0.372},{"date":"2021-06-25","rootzone":0.392,"profile":0.384},{"date":"2021-06-29","rootzone":0.39,"profile":0.381},{"date":"2021-07-01","rootzone":0.4,"profile":0.39}],
"d_tdr":[{"date":"2020-11-28","swc":0.35},{"date":"2020-11-28","swc":0.332},{"date":"2020-11-28","swc":0.299},{"date":"2020-11-28","swc":0.278},{"date":"2020-12-30T16:00Z","swc":0.233},{"date":"2020-12-30T16:00Z","swc":0.227},{"date":"2020-12-30T16:00Z","swc":0.221},{"date":"2020-12-30T16:00Z","swc":0.199},{"date":"2021-04-04","swc":0.006},{"date":"2021-04-04","swc":0.002},{"date":"2021-06-19T05:00Z","swc":0.176},{"date":"2021-06-19T05:00Z","swc":0.119},{"date":"2021-06-19T05:00Z","swc":0.101},{"date":"2021-06-19T05:00Z","swc":0.091}],
"e_surface":[{"date":"2020-11-01","swc":0.464},{"date":"2020-11-04T05:00Z","swc":0.449},{"date":"2020-11-06T14:00Z","swc":0.43},{"date":"2020-11-09","swc":0.43},{"date":"2020-11-12T07:00Z","swc":0.415},{"date":"2020-11-16T07:00Z","swc":0.403},{"date":"2020-11-20T10:00Z","swc":0.393},{"date":"2020-11-25T05:00Z","swc":0.377},{"date":"2020-11-30T19:00Z","swc":0.365},{"date":"2020-12-06T10:00Z","swc":0.347},{"date":"2020-12-11T07:00Z","swc":0.334},{"date":"2020-12-16T02:00Z","swc":0.322},{"date":"2020-12-20T22:00Z","swc":0.306},{"date":"2020-12-26T14:00Z","swc":0.291},{"date":"2020-12-29T22:00Z","swc":0.297},{"date":"2021-01-02T02:00Z","swc":0.279},{"date":"2021-01-06T22:00Z","swc":0.269},{"date":"2021-01-11T19:00Z","swc":0.257},{"date":"2021-01-17T10:00Z","swc":0.251},{"date":"2021-01-22T07:00Z","swc":0.241},{"date":"2021-01-26","swc":0.232},{"date":"2021-01-30","swc":0.22},{"date":"2021-02-03","swc":0.222},{"date":"2021-02-06","swc":0.215},{"date":"2021-02-08T12:00Z","swc":0.225},{"date":"2021-02-09T19:00Z","swc":0.355},{"date":"2021-02-09T22:00Z","swc":0.3},{"date":"2021-02-12","swc":0.245},{"date":"2021-02-16","swc":0.23},{"date":"2021-02-21","swc":0.21},{"date":"2021-02-25","swc":0.205},{"date":"2021-03-01","swc":0.205},{"date":"2021-03-03T17:00Z","swc":0.24},{"date":"2021-03-05","swc":0.225},{"date":"2021-03-09","swc":0.21},{"date":"2021-03-13T07:00Z","swc":0.195},{"date":"2021-03-17","swc":0.195},{"date":"2021-03-21T10:00Z","swc":0.192},{"date":"2021-03-22T04:00Z","swc":0.442},{"date":"2021-03-22T06:00Z","swc":0.39},{"date":"2021-03-22T08:00Z","swc":0.362},{"date":"2021-03-22T10:00Z","swc":0.266},{"date":"2021-03-23","swc":0.241},{"date":"2021-03-24T14:00Z","swc":0.22},{"date":"2021-03-25T19:00Z","swc":0.192},{"date":"2021-03-27T19:00Z","swc":0.208},{"date":"2021-03-30T05:00Z","swc":0.186},{"date":"2021-04-02T12:00Z","swc":0.176},{"date":"2021-04-04T02:00Z","swc":0.186},{"date":"2021-04-04T22:00Z","swc":0.204},{"date":"2021-04-05T10:00Z","swc":0.34},{"date":"2021-04-05T12:00Z","swc":0.328},{"date":"2021-04-05T14:00Z","swc":0.306},{"date":"2021-04-06T12:00Z","swc":0.254},{"date":"2021-04-08T02:00Z","swc":0.229},{"date":"2021-04-09T17:00Z","swc":0.257},{"date":"2021-04-11T07:00Z","swc":0.21},{"date":"2021-04-13","swc":0.192},{"date":"2021-04-13T19:00Z","swc":0.17},{"date":"2021-04-15","swc":0.266},{"date":"2021-04-16T05:00Z","swc":0.226},{"date":"2021-04-17T19:00Z","swc":0.272},{"date":"2021-04-19T10:00Z","swc":0.365},{"date":"2021-04-20T05:00Z","swc":0.278},{"date":"2021-04-21T19:00Z","swc":0.241},{"date":"2021-04-23T10:00Z","swc":0.266},{"date":"2021-04-25","swc":0.223},{"date":"2021-04-26T17:00Z","swc":0.183},{"date":"2021-04-27T22:00Z","swc":0.282},{"date":"2021-04-29T22:00Z","swc":0.303},{"date":"2021-05-02T07:00Z","swc":0.266},{"date":"2021-05-04T17:00Z","swc":0.248},{"date":"2021-05-06T07:00Z","swc":0.353},{"date":"2021-05-07T22:00Z","swc":0.278},{"date":"2021-05-10T10:00Z","swc":0.248},{"date":"2021-05-13T14:00Z","swc":0.223},{"date":"2021-05-16","swc":0.26},{"date":"2021-05-16T19:00Z","swc":0.291},{"date":"2021-05-18T10:00Z","swc":0.359},{"date":"2021-05-20","swc":0.26},{"date":"2021-05-21T17:00Z","swc":0.235},{"date":"2021-05-23T07:00Z","swc":0.192},{"date":"2021-05-24T22:00Z","swc":0.26},{"date":"2021-05-25T17:00Z","swc":0.309},{"date":"2021-05-27T07:00Z","swc":0.445},{"date":"2021-05-27T12:00Z","swc":0.402},{"date":"2021-05-28T22:00Z","swc":0.34},{"date":"2021-05-30T12:00Z","swc":0.322},{"date":"2021-06-01T02:00Z","swc":0.272},{"date":"2021-06-02T19:00Z","swc":0.235},{"date":"2021-06-05T05:00Z","swc":0.204},{"date":"2021-06-06T19:00Z","swc":0.297},{"date":"2021-06-07T14:00Z","swc":0.365},{"date":"2021-06-08T10:00Z","swc":0.393},{"date":"2021-06-10","swc":0.328},{"date":"2021-06-11T14:00Z","swc":0.291},{"date":"2021-06-14","swc":0.378},{"date":"2021-06-16T12:00Z","swc":0.359},{"date":"2021-06-17T17:00Z","swc":0.418},{"date":"2021-06-19T17:00Z","swc":0.353},{"date":"2021-06-21T07:00Z","swc":0.328},{"date":"2021-06-22T22:00Z","swc":0.322},{"date":"2021-06-24T02:00Z","swc":0.39},{"date":"2021-06-26T02:00Z","swc":0.365},{"date":"2021-06-28T12:00Z","swc":0.378},{"date":"2021-06-30T02:00Z","swc":0.353},{"date":"2021-06-30T14:00Z","swc":0.436}],
"e_lines":[{"date":"2020-11-01","rootzone":0.489,"profile":0.48},{"date":"2020-11-11","rootzone":0.455,"profile":0.448},{"date":"2020-11-21","rootzone":0.423,"profile":0.418},{"date":"2020-12-01","rootzone":0.399,"profile":0.395},{"date":"2020-12-16","rootzone":0.371,"profile":0.366},{"date":"2020-12-31","rootzone":0.347,"profile":0.342},{"date":"2021-01-10","rootzone":0.329,"profile":0.324},{"date":"2021-01-22","rootzone":0.313,"profile":0.306},{"date":"2021-01-30","rootzone":0.303,"profile":0.297},{"date":"2021-02-09","rootzone":0.294,"profile":0.288},{"date":"2021-02-10","rootzone":0.312,"profile":0.305},{"date":"2021-02-19","rootzone":0.302,"profile":0.297},{"date":"2021-03-01","rootzone":0.294,"profile":0.29},{"date":"2021-03-04","rootzone":0.299,"profile":0.295},{"date":"2021-03-11","rootzone":0.284,"profile":0.28},{"date":"2021-03-21","rootzone":0.272,"profile":0.267},{"date":"2021-03-22","rootzone":0.315,"profile":0.295},{"date":"2021-03-24","rootzone":0.296,"profile":0.29},{"date":"2021-04-05","rootzone":0.271,"profile":0.267},{"date":"2021-04-06","rootzone":0.296,"profile":0.292},{"date":"2021-04-14","rootzone":0.286,"profile":0.282},{"date":"2021-04-15","rootzone":0.292,"profile":0.288},{"date":"2021-04-18","rootzone":0.287,"profile":0.282},{"date":"2021-04-19","rootzone":0.315,"profile":0.303},{"date":"2021-04-27","rootzone":0.301,"profile":0.297},{"date":"2021-04-28","rootzone":0.317,"profile":0.313},{"date":"2021-05-01","rootzone":0.322,"profile":0.319},{"date":"2021-05-06","rootzone":0.317,"profile":0.313},{"date":"2021-05-07","rootzone":0.334,"profile":0.331},{"date":"2021-05-16","rootzone":0.317,"profile":0.313},{"date":"2021-05-18","rootzone":0.332,"profile":0.328},{"date":"2021-05-24","rootzone":0.313,"profile":0.309},{"date":"2021-05-27","rootzone":0.34,"profile":0.331},{"date":"2021-05-28","rootzone":0.378,"profile":0.366},{"date":"2021-06-06","rootzone":0.338,"profile":0.334},{"date":"2021-06-08","rootzone":0.351,"profile":0.347},{"date":"2021-06-13","rootzone":0.354,"profile":0.35},{"date":"2021-06-14","rootzone":0.375,"profile":0.371},{"date":"2021-06-18","rootzone":0.399,"profile":0.387},{"date":"2021-06-24","rootzone":0.376,"profile":0.371},{"date":"2021-06-26","rootzone":0.385,"profile":0.381},{"date":"2021-06-29","rootzone":0.382,"profile":0.378},{"date":"2021-07-01","rootzone":0.399,"profile":0.39}],
"e_tdr":[{"date":"2020-11-28","swc":0.251},{"date":"2020-11-28","swc":0.229},{"date":"2020-11-28","swc":0.207},{"date":"2020-11-28","swc":0.193},{"date":"2020-12-30T16:00Z","swc":0.173},{"date":"2020-12-30T16:00Z","swc":0.155},{"date":"2020-12-30T16:00Z","swc":0.129},{"date":"2020-12-30T16:00Z","swc":0.111},{"date":"2021-04-04","swc":0.024},{"date":"2021-04-04","swc":0.002},{"date":"2021-06-19T05:00Z","swc":0.224},{"date":"2021-06-19T05:00Z","swc":0.207},{"date":"2021-06-19T05:00Z","swc":0.193},{"date":"2021-06-19T05:00Z","swc":0.144}]
},
"vconcat":[
{"width":1000,"height":270,
"title":{"text":"(a) LS001","orient":"left","anchor":"middle","offset":61},
"encoding":{"x":{"field":"date","type":"temporal","scale":{"type":"utc","domain":[1604188800000,1625080000000]},"axis":{"values":[1604188800000,1604707200000,1605225600000,1605744000000,1606262400000,1606780800000,1607299200000,1607817600000,1608336000000,1608854400000,1609372800000,1609891200000,1610409600000,1610928000000,1611446400000,1611964800000,1612483200000,1613001600000,1613520000000,1614038400000,1614556800000,1615075200000,1615593600000,1616112000000,1616630400000,1617148800000,1617667200000,1618185600000,1618704000000,1619222400000,1619740800000,1620259200000,1620777600000,1621296000000,1621814400000,1622332800000,1622851200000,1623369600000,1623888000000,1624406400000,1624924800000],"labelExpr":"(datum.value-1604188800000)%2592000000===0?utcFormat(datum.value,'%b %-d, %Y'):''","title":null,"grid":true,"labelFontSize":12,"labelFontWeight":"bold","labelColor":"#262626","labelPadding":10}},
"y":{"field":"swc","type":"quantitative","scale":{"domain":[0,0.5]},"axis":{"values":[0,0.05,0.1,0.15,0.2,0.25,0.3,0.35,0.4,0.45,0.5],"labelExpr":"round(datum.value*100)%10===0?format(datum.value,'.2f'):''","title":"Soil water content (m³/m³)","titleFontSize":14,"titleFontWeight":"bold","titleColor":"#262626","labelFontSize":12,"labelColor":"#595959","labelPadding":11,"titlePadding":8,"grid":true}}},
"layer":[
{"data":{"name":"a_surface"},"mark":{"type":"line","color":"#000000","strokeWidth":3.2}},
{"data":{"name":"a_surface"},"mark":{"type":"point","filled":true,"size":26,"opacity":1},"encoding":{"color":{"datum":"Surface","scale":{"domain":["Surface","Rootzone","Profile","TDR"],"range":["#000000","#4a7a2c","#ffc000","#ff0000"]},"legend":{"title":null,"orient":"none","legendX":24,"legendY":1,"direction":"horizontal","columns":4,"fillColor":"#ffffff","padding":8,"columnPadding":26,"labelFontSize":12,"labelFontWeight":"normal","labelColor":"#595959","labelOffset":5,"symbolSize":20}},"shape":{"datum":"Surface","scale":{"domain":["Surface","Rootzone","Profile","TDR"],"range":["circle","square","M-1,-0.45L1,-0.45L1,0.45L-1,0.45Z","triangle-up"]},"legend":{"title":null,"orient":"none","legendX":24,"legendY":1,"direction":"horizontal","columns":4,"fillColor":"#ffffff","padding":8,"columnPadding":26,"labelFontSize":12,"labelFontWeight":"normal","labelColor":"#595959","labelOffset":5,"symbolSize":20}}}},
{"data":{"name":"a_lines"},"mark":{"type":"line","strokeWidth":5.5},"encoding":{"y":{"field":"rootzone","type":"quantitative","scale":{"domain":[0,0.5]}},"color":{"datum":"Rootzone"}}},
{"data":{"name":"a_lines"},"mark":{"type":"line","strokeWidth":4.5},"encoding":{"y":{"field":"profile","type":"quantitative","scale":{"domain":[0,0.5]}},"color":{"datum":"Profile"}}},
{"data":{"name":"a_tdr"},"mark":{"type":"point","filled":true,"size":36,"opacity":1},"encoding":{"color":{"datum":"TDR"},"shape":{"datum":"TDR"}}}
]},
{"width":1000,"height":270,
"title":{"text":"(b) LS002","orient":"left","anchor":"middle","offset":42},
"encoding":{"x":{"field":"date","type":"temporal","scale":{"type":"utc","domain":[1604188800000,1625080000000]},"axis":{"values":[1604188800000,1604707200000,1605225600000,1605744000000,1606262400000,1606780800000,1607299200000,1607817600000,1608336000000,1608854400000,1609372800000,1609891200000,1610409600000,1610928000000,1611446400000,1611964800000,1612483200000,1613001600000,1613520000000,1614038400000,1614556800000,1615075200000,1615593600000,1616112000000,1616630400000,1617148800000,1617667200000,1618185600000,1618704000000,1619222400000,1619740800000,1620259200000,1620777600000,1621296000000,1621814400000,1622332800000,1622851200000,1623369600000,1623888000000,1624406400000,1624924800000],"labelExpr":"(datum.value-1604188800000)%2592000000===0?utcFormat(datum.value,'%b %-d, %Y'):''","title":null,"grid":true,"labelFontSize":16,"labelFontWeight":"bold","labelColor":"#262626","labelPadding":14}},
"y":{"field":"swc","type":"quantitative","scale":{"domain":[0,0.5]},"axis":{"values":[0,0.05,0.1,0.15,0.2,0.25,0.3,0.35,0.4,0.45,0.5],"labelExpr":"round(datum.value*100)%10===0?format(datum.value,'.2f'):''","title":"Soil water content (m³/m³)","titleFontSize":17,"titleFontWeight":"bold","titleColor":"#262626","labelFontSize":16,"labelFontWeight":"bold","labelColor":"#262626","labelPadding":16,"titlePadding":9,"grid":true}}},
"layer":[
{"data":{"name":"b_surface"},"mark":{"type":"line","color":"#000000","strokeWidth":3.2}},
{"data":{"name":"b_surface"},"mark":{"type":"point","filled":true,"size":26,"opacity":1},"encoding":{"color":{"datum":"Surface","scale":{"domain":["Surface","Rootzone","Profile","TDR"],"range":["#000000","#4a7a2c","#ffc000","#ff0000"]},"legend":{"title":null,"orient":"none","legendX":17,"legendY":2,"direction":"horizontal","columns":4,"fillColor":"#ffffff","padding":8,"columnPadding":24,"labelFontSize":13,"labelFontWeight":"bold","labelColor":"#262626","labelOffset":5,"symbolSize":20}},"shape":{"datum":"Surface","scale":{"domain":["Surface","Rootzone","Profile","TDR"],"range":["circle","square","M-1,-0.45L1,-0.45L1,0.45L-1,0.45Z","triangle-up"]},"legend":{"title":null,"orient":"none","legendX":17,"legendY":2,"direction":"horizontal","columns":4,"fillColor":"#ffffff","padding":8,"columnPadding":24,"labelFontSize":13,"labelFontWeight":"bold","labelColor":"#262626","labelOffset":5,"symbolSize":20}}}},
{"data":{"name":"b_lines"},"mark":{"type":"line","strokeWidth":5.5},"encoding":{"y":{"field":"rootzone","type":"quantitative","scale":{"domain":[0,0.5]}},"color":{"datum":"Rootzone"}}},
{"data":{"name":"b_lines"},"mark":{"type":"line","strokeWidth":4.5},"encoding":{"y":{"field":"profile","type":"quantitative","scale":{"domain":[0,0.5]}},"color":{"datum":"Profile"}}},
{"data":{"name":"b_tdr"},"mark":{"type":"point","filled":true,"size":36,"opacity":1},"encoding":{"color":{"datum":"TDR"},"shape":{"datum":"TDR"}}}
]},
{"width":1000,"height":270,
"title":{"text":"(c) LS003","orient":"left","anchor":"middle","offset":42},
"encoding":{"x":{"field":"date","type":"temporal","scale":{"type":"utc","domain":[1604188800000,1625080000000]},"axis":{"values":[1604188800000,1604707200000,1605225600000,1605744000000,1606262400000,1606780800000,1607299200000,1607817600000,1608336000000,1608854400000,1609372800000,1609891200000,1610409600000,1610928000000,1611446400000,1611964800000,1612483200000,1613001600000,1613520000000,1614038400000,1614556800000,1615075200000,1615593600000,1616112000000,1616630400000,1617148800000,1617667200000,1618185600000,1618704000000,1619222400000,1619740800000,1620259200000,1620777600000,1621296000000,1621814400000,1622332800000,1622851200000,1623369600000,1623888000000,1624406400000,1624924800000],"labelExpr":"(datum.value-1604188800000)%2592000000===0?utcFormat(datum.value,'%b %-d, %Y'):''","title":null,"grid":true,"labelFontSize":16,"labelFontWeight":"bold","labelColor":"#262626","labelPadding":14}},
"y":{"field":"swc","type":"quantitative","scale":{"domain":[0,0.5]},"axis":{"values":[0,0.05,0.1,0.15,0.2,0.25,0.3,0.35,0.4,0.45,0.5],"labelExpr":"round(datum.value*100)%10===0?format(datum.value,'.2f'):''","title":"Soil water content (m³/m³)","titleFontSize":17,"titleFontWeight":"bold","titleColor":"#262626","labelFontSize":16,"labelFontWeight":"bold","labelColor":"#262626","labelPadding":16,"titlePadding":9,"grid":true}}},
"layer":[
{"data":{"name":"c_surface"},"mark":{"type":"line","color":"#000000","strokeWidth":3.2}},
{"data":{"name":"c_surface"},"mark":{"type":"point","filled":true,"size":26,"opacity":1},"encoding":{"color":{"datum":"Surface","scale":{"domain":["Surface","Rootzone","Profile","TDR"],"range":["#000000","#4a7a2c","#ffc000","#ff0000"]},"legend":{"title":null,"orient":"none","legendX":17,"legendY":2,"direction":"horizontal","columns":4,"fillColor":"#ffffff","padding":8,"columnPadding":24,"labelFontSize":13,"labelFontWeight":"bold","labelColor":"#262626","labelOffset":5,"symbolSize":20}},"shape":{"datum":"Surface","scale":{"domain":["Surface","Rootzone","Profile","TDR"],"range":["circle","square","M-1,-0.45L1,-0.45L1,0.45L-1,0.45Z","triangle-up"]},"legend":{"title":null,"orient":"none","legendX":17,"legendY":2,"direction":"horizontal","columns":4,"fillColor":"#ffffff","padding":8,"columnPadding":24,"labelFontSize":13,"labelFontWeight":"bold","labelColor":"#262626","labelOffset":5,"symbolSize":20}}}},
{"data":{"name":"c_lines"},"mark":{"type":"line","strokeWidth":5.5},"encoding":{"y":{"field":"rootzone","type":"quantitative","scale":{"domain":[0,0.5]}},"color":{"datum":"Rootzone"}}},
{"data":{"name":"c_lines"},"mark":{"type":"line","strokeWidth":4.5},"encoding":{"y":{"field":"profile","type":"quantitative","scale":{"domain":[0,0.5]}},"color":{"datum":"Profile"}}},
{"data":{"name":"c_tdr"},"mark":{"type":"point","filled":true,"size":36,"opacity":1},"encoding":{"color":{"datum":"TDR"},"shape":{"datum":"TDR"}}}
]},
{"width":1000,"height":270,
"title":{"text":"(d) LS004","orient":"left","anchor":"middle","offset":42},
"encoding":{"x":{"field":"date","type":"temporal","scale":{"type":"utc","domain":[1604188800000,1625080000000]},"axis":{"values":[1604188800000,1604707200000,1605225600000,1605744000000,1606262400000,1606780800000,1607299200000,1607817600000,1608336000000,1608854400000,1609372800000,1609891200000,1610409600000,1610928000000,1611446400000,1611964800000,1612483200000,1613001600000,1613520000000,1614038400000,1614556800000,1615075200000,1615593600000,1616112000000,1616630400000,1617148800000,1617667200000,1618185600000,1618704000000,1619222400000,1619740800000,1620259200000,1620777600000,1621296000000,1621814400000,1622332800000,1622851200000,1623369600000,1623888000000,1624406400000,1624924800000],"labelExpr":"(datum.value-1604188800000)%2592000000===0?utcFormat(datum.value,'%b %-d, %Y'):''","title":null,"grid":true,"labelFontSize":16,"labelFontWeight":"bold","labelColor":"#262626","labelPadding":14}},
"y":{"field":"swc","type":"quantitative","scale":{"domain":[0,0.5]},"axis":{"values":[0,0.05,0.1,0.15,0.2,0.25,0.3,0.35,0.4,0.45,0.5],"labelExpr":"round(datum.value*100)%10===0?format(datum.value,'.2f'):''","title":"Soil water content (m³/m³)","titleFontSize":17,"titleFontWeight":"bold","titleColor":"#262626","labelFontSize":16,"labelFontWeight":"bold","labelColor":"#262626","labelPadding":16,"titlePadding":9,"grid":true}}},
"layer":[
{"data":{"name":"d_surface"},"mark":{"type":"line","color":"#000000","strokeWidth":3.2}},
{"data":{"name":"d_surface"},"mark":{"type":"point","filled":true,"size":26,"opacity":1},"encoding":{"color":{"datum":"Surface","scale":{"domain":["Surface","Rootzone","Profile","TDR"],"range":["#000000","#4a7a2c","#ffc000","#ff0000"]},"legend":{"title":null,"orient":"none","legendX":65,"legendY":1,"direction":"horizontal","columns":4,"fillColor":"#ffffff","padding":8,"columnPadding":24,"labelFontSize":13,"labelFontWeight":"bold","labelColor":"#262626","labelOffset":5,"symbolSize":20}},"shape":{"datum":"Surface","scale":{"domain":["Surface","Rootzone","Profile","TDR"],"range":["circle","square","M-1,-0.45L1,-0.45L1,0.45L-1,0.45Z","triangle-up"]},"legend":{"title":null,"orient":"none","legendX":65,"legendY":1,"direction":"horizontal","columns":4,"fillColor":"#ffffff","padding":8,"columnPadding":24,"labelFontSize":13,"labelFontWeight":"bold","labelColor":"#262626","labelOffset":5,"symbolSize":20}}}},
{"data":{"name":"d_lines"},"mark":{"type":"line","strokeWidth":5.5},"encoding":{"y":{"field":"rootzone","type":"quantitative","scale":{"domain":[0,0.5]}},"color":{"datum":"Rootzone"}}},
{"data":{"name":"d_lines"},"mark":{"type":"line","strokeWidth":4.5},"encoding":{"y":{"field":"profile","type":"quantitative","scale":{"domain":[0,0.5]}},"color":{"datum":"Profile"}}},
{"data":{"name":"d_tdr"},"mark":{"type":"point","filled":true,"size":36,"opacity":1},"encoding":{"color":{"datum":"TDR"},"shape":{"datum":"TDR"}}}
]},
{"width":1000,"height":270,
"title":{"text":"(e) LS005","orient":"left","anchor":"middle","offset":42},
"encoding":{"x":{"field":"date","type":"temporal","scale":{"type":"utc","domain":[1604188800000,1625080000000]},"axis":{"values":[1604188800000,1604707200000,1605225600000,1605744000000,1606262400000,1606780800000,1607299200000,1607817600000,1608336000000,1608854400000,1609372800000,1609891200000,1610409600000,1610928000000,1611446400000,1611964800000,1612483200000,1613001600000,1613520000000,1614038400000,1614556800000,1615075200000,1615593600000,1616112000000,1616630400000,1617148800000,1617667200000,1618185600000,1618704000000,1619222400000,1619740800000,1620259200000,1620777600000,1621296000000,1621814400000,1622332800000,1622851200000,1623369600000,1623888000000,1624406400000,1624924800000],"labelExpr":"(datum.value-1604188800000)%2592000000===0?utcFormat(datum.value,'%b %-d, %Y'):''","title":null,"grid":true,"labelFontSize":16,"labelFontWeight":"bold","labelColor":"#262626","labelPadding":14}},
"y":{"field":"swc","type":"quantitative","scale":{"domain":[0,0.5]},"axis":{"values":[0,0.05,0.1,0.15,0.2,0.25,0.3,0.35,0.4,0.45,0.5],"labelExpr":"round(datum.value*100)%10===0?format(datum.value,'.2f'):''","title":"Soil water content (m³/m³)","titleFontSize":17,"titleFontWeight":"bold","titleColor":"#262626","labelFontSize":16,"labelFontWeight":"bold","labelColor":"#262626","labelPadding":16,"titlePadding":9,"grid":true}}},
"layer":[
{"data":{"name":"e_surface"},"mark":{"type":"line","color":"#000000","strokeWidth":3.2}},
{"data":{"name":"e_surface"},"mark":{"type":"point","filled":true,"size":26,"opacity":1},"encoding":{"color":{"datum":"Surface","scale":{"domain":["Surface","Rootzone","Profile","TDR"],"range":["#000000","#4a7a2c","#ffc000","#ff0000"]},"legend":{"title":null,"orient":"none","legendX":85,"legendY":0,"direction":"horizontal","columns":4,"fillColor":"#ffffff","padding":7,"columnPadding":24,"labelFontSize":13,"labelFontWeight":"bold","labelColor":"#262626","labelOffset":5,"symbolSize":20}},"shape":{"datum":"Surface","scale":{"domain":["Surface","Rootzone","Profile","TDR"],"range":["circle","square","M-1,-0.45L1,-0.45L1,0.45L-1,0.45Z","triangle-up"]},"legend":{"title":null,"orient":"none","legendX":85,"legendY":0,"direction":"horizontal","columns":4,"fillColor":"#ffffff","padding":7,"columnPadding":24,"labelFontSize":13,"labelFontWeight":"bold","labelColor":"#262626","labelOffset":5,"symbolSize":20}}}},
{"data":{"name":"e_lines"},"mark":{"type":"line","strokeWidth":5.5},"encoding":{"y":{"field":"rootzone","type":"quantitative","scale":{"domain":[0,0.5]}},"color":{"datum":"Rootzone"}}},
{"data":{"name":"e_lines"},"mark":{"type":"line","strokeWidth":4.5},"encoding":{"y":{"field":"profile","type":"quantitative","scale":{"domain":[0,0.5]}},"color":{"datum":"Profile"}}},
{"data":{"name":"e_tdr"},"mark":{"type":"point","filled":true,"size":36,"opacity":1},"encoding":{"color":{"datum":"TDR"},"shape":{"datum":"TDR"}}}
]}
]
}
